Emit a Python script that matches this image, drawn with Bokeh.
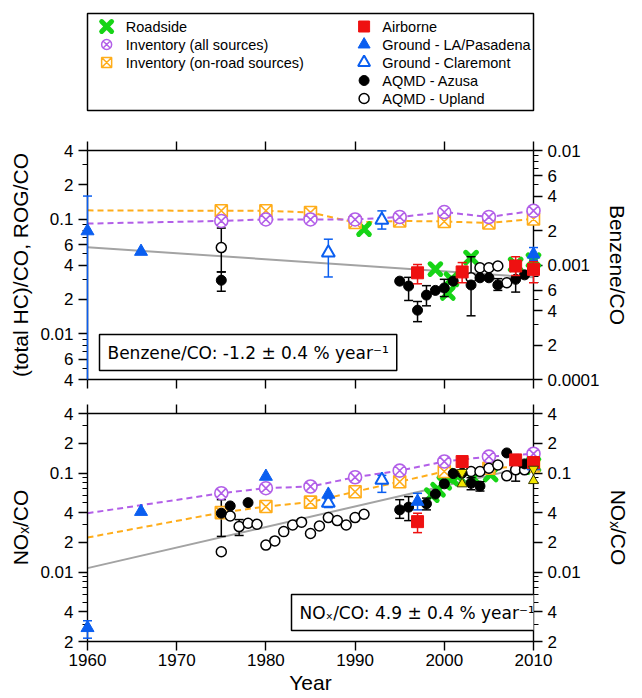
import numpy as np
from bokeh.core.properties import value
from bokeh.embed import file_html
from bokeh.layouts import column
from bokeh.models import (ColumnDataSource, CustomJSTickFormatter, FixedTicker,
                          Label, LinearAxis, LogAxis, LogScale, Range1d)
from bokeh.plotting import figure
from bokeh.resources import INLINE

nan = np.nan

# ------------------------------------------------------------------ data
YEAR_TICKS = [1960, 1970, 1980, 1990, 2000, 2010]
YEAR_LABELS = ["1960", "1970", "1980", "1990", "2000", "2010"]

HC_TICKS = [0.004, 0.006, 0.01, 0.02, 0.04, 0.06, 0.1, 0.2, 0.4]
HC_TICK_LABELS = ["4", "6", "0.01", "2", "4", "6", "0.1", "2", "4"]
BENZ_TICKS = [0.0001, 0.0002, 0.0004, 0.0006, 0.001, 0.002, 0.004, 0.006, 0.01]
BENZ_TICK_LABELS = ["0.0001", "2", "4", "6", "0.001", "2", "4", "6", "0.01"]
NOX_TICKS = [0.002, 0.004, 0.01, 0.02, 0.04, 0.1, 0.2, 0.4]
NOX_TICK_LABELS = ["2", "4", "0.01", "2", "4", "0.1", "2", "4"]

# emission inventories
inv_years = [1975, 1980, 1985, 1990, 1995, 2000, 2005, 2010]
rog_inv_all = [0.097, 0.100, 0.100, 0.100, 0.105, 0.116, 0.105, 0.119]
rog_inv_road = [0.119, 0.119, 0.115, 0.094, 0.097, 0.096, 0.093, 0.101]
nox_inv_all = [0.0628, 0.0705, 0.0733, 0.091, 0.106, 0.131, 0.147, 0.157]
nox_inv_road = [0.040, 0.046, 0.051, 0.065, 0.082, 0.104, 0.112, 0.118]
# start of the dashed inventory curves in 1960
rog_all_1960, rog_road_1960 = 0.092, 0.120
nox_all_1960, nox_road_1960 = 0.0394, 0.0224

# fitted trends (grey lines)
fit_years = [1960, 2010]
benz_fit = [0.00143, 0.00078]
nox_fit = [0.0110, 0.120]

# ---- Benzene/CO (upper panel, right axis)
roadside_benz_years = [1991, 1999, 2000.4, 2000.8, 2003, 2008, 2010]
roadside_benz = [0.00206, 0.00092, 0.00057, 0.00075, 0.00116, 0.00101, 0.00110]

airborne_benz_years = [1997, 2002, 2008, 2010]
airborne_benz = [0.000855, 0.00087, 0.00098, 0.000916]
airborne_benz_lo = [0.000685, 0.00070, 0.00081, 0.00070]
airborne_benz_hi = [0.00101, 0.00105, 0.00118, 0.00107]

la_benz_years = [1960, 1966, 2010]
la_benz = [0.00198, 0.00131, 0.00124]
la_benz_lo = [0.0001, nan, 0.00110]      # 1960 bar runs off the bottom of the axis
la_benz_hi = [0.0040, nan, 0.00142]
la_benz_lo_cap = [False, False, True]

claremont_benz_years = [1987, 1993]
claremont_benz = [0.00128, 0.00247]
claremont_benz_lo = [0.000786, 0.00206]
claremont_benz_hi = [0.00168, 0.00297]

azusa_benz_years = [1975, 1995, 1996, 1997, 1998, 1999, 2000, 2001, 2003,
                    2004, 2005, 2006, 2008, 2009]
azusa_benz = [0.000736, 0.000723, 0.000655, 0.000403, 0.000546, 0.00060,
              0.00063, 0.000723, 0.000669, 0.000773, 0.000773, 0.00067,
              0.00075, 0.00082]
azusa_benz_lo = [0.00059, nan, 0.00049, 0.00032, 0.00044, nan, 0.00053, nan,
                 0.00036, nan, nan, 0.00060, 0.00058, nan]
azusa_benz_hi = [0.00087, nan, 0.00078, 0.00048, 0.00066, nan, 0.00075, nan,
                 0.00118, nan, nan, 0.00076, 0.00090, nan]

upland_benz_years = [1975, 2003, 2004, 2005, 2006, 2007]
upland_benz = [0.00142, 0.000773, 0.000946, 0.000946, 0.00098, 0.00070]
upland_benz_lo = [0.00087, nan, nan, nan, nan, nan]
upland_benz_hi = [0.0021, nan, nan, nan, nan, nan]

# ---- NOx/CO (lower panel)
roadside_nox_years = [1998.6, 1999.3, 2000.0, 2000.8, 2001.5, 2003.2, 2005.2, 2008.8, 2010]
roadside_nox = [0.060, 0.068, 0.080, 0.088, 0.094, 0.090, 0.097, 0.115, 0.122]

airborne_nox_years = [1997, 2002, 2008, 2010]
airborne_nox = [0.0324, 0.131, 0.136, 0.128]
airborne_nox_lo = [0.0251, nan, nan, nan]
airborne_nox_hi = [0.0394, nan, nan, nan]

la_nox_years = [1960, 1966, 1980, 1987, 1997, 2010]
la_nox = [0.00275, 0.0409, 0.0925, 0.061, 0.0517, 0.118]
la_nox_lo = [0.00216, nan, nan, nan, 0.0426, nan]
la_nox_hi = [0.00324, nan, nan, nan, 0.0626, nan]

claremont_nox_years = [1987, 1993]
claremont_nox = [0.050, 0.0855]
claremont_nox_lo = [0.045, 0.064]
claremont_nox_hi = [0.055, 0.095]

azusa_nox_years = [1975, 1976, 1978, 1995, 1996, 1998, 1999, 2000, 2001, 2002,
                   2003, 2004, 2007, 2009]
azusa_nox = [0.0394, 0.0467, 0.0504, 0.0426, 0.0454, 0.049, 0.0615, 0.078,
             0.099, 0.100, 0.079, 0.074, 0.160, 0.124]
azusa_nox_lo = [0.023, nan, nan, 0.035, 0.0332, 0.0426, nan, nan, nan, nan,
                0.068, 0.066, nan, nan]
azusa_nox_hi = [0.054, nan, nan, 0.054, 0.058, 0.056, nan, nan, nan, nan,
                0.090, 0.082, nan, nan]

upland_nox_years = [1975, 1976, 1977, 1978, 1979, 1980, 1981, 1982, 1983, 1984,
                    1985, 1986, 1987, 1988, 1989, 1990, 1991,
                    2003, 2004, 2005, 2006, 2007, 2008, 2009]
upland_nox = [0.0161, 0.037, 0.0289, 0.0312, 0.0305, 0.0188, 0.0207, 0.0257,
              0.0300, 0.032, 0.0246, 0.0293, 0.0356, 0.0332, 0.0300, 0.0356,
              0.0385, 0.104, 0.104, 0.112, 0.121, 0.094, 0.108, 0.108]
upland_nox_lo = [0.0152, nan, 0.0235] + [nan] * 19 + [0.083, nan]
upland_nox_hi = [0.0170, nan, 0.0340] + [nan] * 19 + [0.130, nan]

hourglass_nox_years = [2002, 2010]
hourglass_nox = [0.089, 0.096]

# ------------------------------------------------------------------ style
GREEN = "#16d416"
PURPLE = "#b25fe8"
ORANGE = "#ffad1a"
RED = "#ee1111"
BLUE = "#0a5ef0"
GRAY = "#a3a3a3"
YELLOW = "#f2e600"
FONT = "Liberation Sans"

ROADSIDE = dict(marker="x", size=15, line_color=GREEN, line_width=5, line_cap="round")
INV_ALL = dict(marker="circle_x", size=13, line_color=PURPLE, fill_color="white", line_width=1.6)
INV_ROAD = dict(marker="square_x", size=12, line_color=ORANGE, fill_color="white", line_width=1.6)
AIRBORNE = dict(marker="square", size=12, line_color=RED, fill_color=RED)
LA = dict(marker="triangle", size=13, line_color=BLUE, fill_color=BLUE)
CLAREMONT = dict(marker="triangle", size=13, line_color=BLUE, fill_color="white", line_width=2)
AZUSA = dict(marker="circle", size=10, line_color="black", fill_color="black")
UPLAND = dict(marker="circle", size=10, line_color="black", fill_color="white", line_width=1.5)

LEGEND_LEFT = [("Roadside", dict(ROADSIDE, size=14, line_width=5)),
               ("Inventory (all sources)", dict(INV_ALL, size=10, line_width=1.5)),
               ("Inventory (on-road sources)", dict(INV_ROAD, size=10, line_width=1.5))]
LEGEND_RIGHT = [("Airborne", dict(AIRBORNE, size=11)),
                ("Ground - LA/Pasadena", dict(LA, size=12)),
                ("Ground - Claremont", dict(CLAREMONT, size=12)),
                ("AQMD - Azusa", dict(AZUSA, size=10)),
                ("AQMD - Upland", dict(UPLAND, size=10))]

W = 642
FRAME_L, FRAME_R = 87, 94


def minor_ticks_for(ticks, lo, hi):
    out = []
    for e in range(-6, 1):
        for m in range(1, 10):
            v = m * 10.0 ** e
            if lo * 0.999 <= v <= hi * 1.001 and all(abs(v - t) > 1e-6 * t for t in ticks):
                out.append(v)
    return out


def style_axis(ax):
    ax.axis_line_color = "black"
    ax.axis_line_width = 1.4
    ax.major_tick_line_color = "black"
    ax.major_tick_line_width = 1.4
    ax.minor_tick_line_color = "black"
    ax.minor_tick_line_width = 1.2
    ax.major_tick_in, ax.major_tick_out = 0, 9
    ax.minor_tick_in, ax.minor_tick_out = 0, 5
    ax.major_label_text_font = FONT
    ax.major_label_text_font_size = "17px"
    ax.major_label_text_color = "black"
    ax.axis_label_text_font = FONT
    ax.axis_label_text_font_size = "21px"
    ax.axis_label_text_font_style = "normal"
    ax.axis_label_text_color = "black"
    return ax


def log_axis(ticks, labels, lo, hi, **kw):
    ax = LogAxis(ticker=FixedTicker(ticks=ticks, minor_ticks=minor_ticks_for(ticks, lo, hi)),
                 major_label_overrides=dict(zip(ticks, labels)), **kw)
    return style_axis(ax)


def year_axis(with_labels):
    ax = style_axis(LinearAxis(ticker=FixedTicker(ticks=YEAR_TICKS)))
    ax.minor_tick_line_color = None
    if with_labels:
        ax.major_label_overrides = dict(zip(YEAR_TICKS, YEAR_LABELS))
        ax.major_label_standoff = 3
    else:
        ax.formatter = CustomJSTickFormatter(code="return ''")
        ax.major_label_text_font_size = "0px"
        ax.major_label_standoff = 0
    return ax


def add_points(p, x, y, style, rng="default"):
    p.scatter(x=list(x), y=list(y), y_range_name=rng, level="overlay", **style)


def add_errorbars(p, x, lo, hi, color, rng="default", lo_cap=None):
    lo = np.asarray(lo, float)
    lo_cap_y = lo if lo_cap is None else np.where(lo_cap, lo, nan)
    src = ColumnDataSource(dict(x=np.asarray(x, float), lo=lo, hi=np.asarray(hi, float),
                                lo_cap=lo_cap_y))
    p.segment(x0="x", y0="lo", x1="x", y1="hi", source=src, line_color=color,
              line_width=1.5, y_range_name=rng, level="overlay")
    for key in ("lo_cap", "hi"):
        p.scatter(x="x", y=key, source=src, marker="dash", size=9, line_color=color,
                  line_width=1.5, y_range_name=rng, level="overlay")


def new_panel(height, y_lo, y_hi, border_top, border_bottom, **kw):
    p = figure(width=W, height=height, x_range=Range1d(1960, 2010),
               y_range=Range1d(y_lo, y_hi), y_axis_type="log",
               x_axis_location=None, y_axis_location=None,
               toolbar_location=None, output_backend="svg",
               min_border_left=FRAME_L, min_border_right=FRAME_R,
               min_border_top=border_top, min_border_bottom=border_bottom, **kw)
    p.grid.grid_line_color = None
    p.outline_line_color = None
    p.background_fill_color = "white"
    p.border_fill_color = "white"
    return p


def note(text, x, y):
    return Label(x=x, y=y, x_units="screen", y_units="screen", text=text,
                 text_font="DejaVu Sans", text_font_size="17px", text_color="black",
                 text_align="left", text_baseline="middle",
                 border_line_color="black", border_line_width=1.5,
                 background_fill_color="white", padding=8)


# ------------------------------------------------------------------ legend box
leg = figure(width=W, height=125, x_range=Range1d(0, 466), y_range=Range1d(0, 97),
             x_axis_location=None, y_axis_location=None,
             toolbar_location=None, output_backend="svg",
             min_border_left=67, min_border_right=109, min_border_top=13, min_border_bottom=15)
leg.grid.grid_line_color = None
leg.outline_line_color = "black"
leg.outline_line_width = 1.5
ROW_H, ROW0 = 18, 84
for (glyph_x, text_x), entries in (((20, 40), LEGEND_LEFT), ((289, 308), LEGEND_RIGHT)):
    for i, (label, style) in enumerate(entries):
        leg.scatter(x=[glyph_x], y=[ROW0 - i * ROW_H], **style)
    leg.text(x=[text_x] * len(entries), y=[ROW0 - i * ROW_H for i in range(len(entries))],
             text=[e[0] for e in entries], text_font=value(FONT),
             text_font_size=value("14.5px"), text_color="black",
             text_align="left", text_baseline="middle")

# ------------------------------------------------------------------ upper panel
top = new_panel(270, 0.004, 0.4, 25, 16,
                extra_y_ranges={"benz": Range1d(0.0001, 0.01)},
                extra_y_scales={"benz": LogScale()})
ax = log_axis(HC_TICKS, HC_TICK_LABELS, 0.004, 0.4, axis_label="(total HC)/CO, ROG/CO")
ax.axis_label_standoff = 5
top.add_layout(ax, "left")
ax = log_axis(BENZ_TICKS, BENZ_TICK_LABELS, 0.0001, 0.01, y_range_name="benz",
              axis_label="Benzene/CO")
ax.axis_label_standoff = 4
top.add_layout(ax, "right")
top.add_layout(year_axis(False), "above")
top.add_layout(year_axis(False), "below")

top.line(fit_years, benz_fit, y_range_name="benz", line_color=GRAY, line_width=2)
top.line([1960] + inv_years, [rog_road_1960] + rog_inv_road, line_color=ORANGE,
         line_width=2, line_dash="6 4")
top.line([1960] + inv_years, [rog_all_1960] + rog_inv_all, line_color=PURPLE,
         line_width=2, line_dash="6 4")

add_points(top, roadside_benz_years, roadside_benz, ROADSIDE, "benz")
add_errorbars(top, upland_benz_years, upland_benz_lo, upland_benz_hi, "black", "benz")
add_errorbars(top, azusa_benz_years, azusa_benz_lo, azusa_benz_hi, "black", "benz")
add_points(top, inv_years, rog_inv_road, INV_ROAD)
add_points(top, inv_years, rog_inv_all, INV_ALL)
add_points(top, upland_benz_years, upland_benz, UPLAND, "benz")
add_points(top, azusa_benz_years, azusa_benz, AZUSA, "benz")
add_errorbars(top, claremont_benz_years, claremont_benz_lo, claremont_benz_hi, BLUE, "benz")
add_errorbars(top, la_benz_years, la_benz_lo, la_benz_hi, BLUE, "benz", lo_cap=la_benz_lo_cap)
add_errorbars(top, airborne_benz_years, airborne_benz_lo, airborne_benz_hi, RED, "benz")
add_points(top, claremont_benz_years, claremont_benz, CLAREMONT, "benz")
add_points(top, la_benz_years, la_benz, LA, "benz")
add_points(top, airborne_benz_years, airborne_benz, AIRBORNE, "benz")

top.add_layout(note("Benzene/CO: -1.2 \u00b1 0.4 % year\u207b\u00b9", 12, 27))

# ------------------------------------------------------------------ lower panel
bot = new_panel(303, 0.002, 0.4, 18, 57)
ax = log_axis(NOX_TICKS, NOX_TICK_LABELS, 0.002, 0.4, axis_label="NO\u2093/CO")
ax.axis_label_standoff = 5
bot.add_layout(ax, "left")
ax = log_axis(NOX_TICKS, NOX_TICK_LABELS, 0.002, 0.4, axis_label="NO\u2093/CO")
ax.axis_label_standoff = 23
bot.add_layout(ax, "right")
bot.add_layout(year_axis(False), "above")
ax = year_axis(True)
ax.axis_label = "Year"
ax.axis_label_standoff = 2
bot.add_layout(ax, "below")

bot.line(fit_years, nox_fit, line_color=GRAY, line_width=2)
bot.line([1960] + inv_years, [nox_road_1960] + nox_inv_road, line_color=ORANGE,
         line_width=2, line_dash="6 4")
bot.line([1960] + inv_years, [nox_all_1960] + nox_inv_all, line_color=PURPLE,
         line_width=2, line_dash="6 4")

add_points(bot, roadside_nox_years, roadside_nox, ROADSIDE)
add_errorbars(bot, upland_nox_years, upland_nox_lo, upland_nox_hi, "black")
add_errorbars(bot, azusa_nox_years, azusa_nox_lo, azusa_nox_hi, "black")
add_points(bot, inv_years, nox_inv_road, INV_ROAD)
add_points(bot, inv_years, nox_inv_all, INV_ALL)
add_points(bot, upland_nox_years, upland_nox, UPLAND)
add_points(bot, azusa_nox_years, azusa_nox, AZUSA)
add_errorbars(bot, claremont_nox_years, claremont_nox_lo, claremont_nox_hi, BLUE)
add_errorbars(bot, la_nox_years, la_nox_lo, la_nox_hi, BLUE)
add_errorbars(bot, airborne_nox_years, airborne_nox_lo, airborne_nox_hi, RED)
add_points(bot, claremont_nox_years, claremont_nox, CLAREMONT)
add_points(bot, la_nox_years, la_nox, LA)
add_points(bot, airborne_nox_years, airborne_nox, AIRBORNE)

# yellow hourglass markers: two triangles meeting at the value
HG_SIZE = 10
px_per_decade = 228 / np.log10(0.4 / 0.002)
hg_shift = 10 ** ((HG_SIZE / 2) * (2 / np.sqrt(3)) / px_per_decade)
hg = dict(size=HG_SIZE, fill_color=YELLOW, line_color="#3a3a00", line_width=1)
add_points(bot, hourglass_nox_years, [v * hg_shift for v in hourglass_nox],
           dict(hg, marker="inverted_triangle"))
add_points(bot, hourglass_nox_years, [v / hg_shift for v in hourglass_nox],
           dict(hg, marker="triangle"))

bot.add_layout(note("NO\u2093/CO: 4.9 \u00b1 0.4 % year\u207b\u00b9", 204, 29))

layout = column(leg, top, bot)
open("out.html", "w").write(file_html(layout, INLINE))
